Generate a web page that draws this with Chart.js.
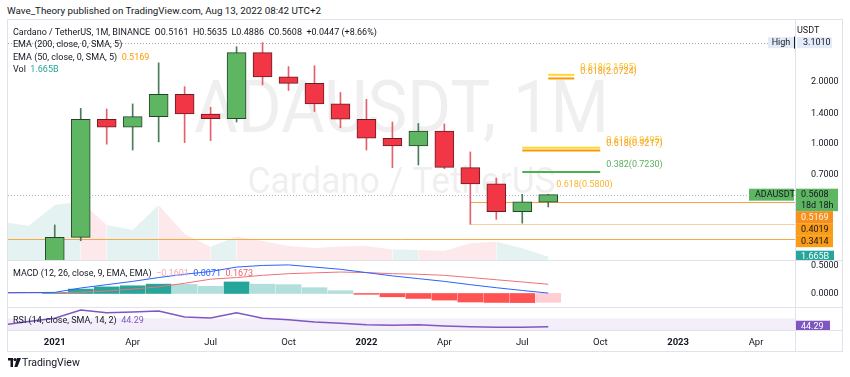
<!DOCTYPE html>
<html>
<head>
<meta charset="utf-8">
<script src="https://cdn.jsdelivr.net/npm/chart.js@4.4.0/dist/chart.umd.min.js"></script>
<style>
  html, body { margin: 0; padding: 0; background: #fff; }
  body { width: 850px; height: 377px; position: relative; overflow: hidden;
         font-family: Roboto, "Liberation Sans", Arial, sans-serif; color: #131722; }
  canvas { position: absolute; }
  .t { position: absolute; white-space: nowrap; font-size: 9px; line-height: 12px; }
  .ln { position: absolute; background: #e0e3eb; }
</style>
</head>
<body>
<canvas id="cMain" style="left:7px; top:20px;" width="835" height="240"></canvas>
<canvas id="cMacd" style="left:7px; top:260px;" width="835" height="48"></canvas>
<canvas id="cRsi" style="left:7px; top:308px;" width="835" height="43"></canvas>

<div class="ln" style="left:7px; top:19px; width:836px; height:1px;"></div>
<div class="ln" style="left:7px; top:351px; width:836px; height:1px;"></div>
<div class="ln" style="left:7px; top:19px; width:1px; height:333px;"></div>
<div class="ln" style="left:842px; top:19px; width:1px; height:333px;"></div>
<div class="ln" style="left:795px; top:19px; width:1px; height:333px;"></div>
<div class="ln" style="left:7px; top:260px; width:836px; height:1px;"></div>
<div class="ln" style="left:7px; top:307px; width:836px; height:1px;"></div>
<div class="ln" style="left:7px; top:330px; width:836px; height:1px;"></div>

<div class="t" style="left:7px; top:5px; font-size:9.8px;">Wave_Theory published on TradingView.com, Aug 13, 2022 08:42 UTC+2</div>
<div class="t" style="left:13px; top:26px;">Cardano / TetherUS, 1M, BINANCE&nbsp;&nbsp;O0.5161&nbsp;&nbsp;H0.5635&nbsp;&nbsp;L0.4886&nbsp;&nbsp;C0.5608&nbsp;&nbsp;+0.0447 (+8.66%)</div>
<div class="t" style="left:13px; top:38px;">EMA (200, close, 0, SMA, 5)</div>
<div class="t" style="left:13px; top:50.5px;">EMA (50, close, 0, SMA, 5)&nbsp;&nbsp;<span style="color:#ff9800">0.5169</span></div>
<div class="t" style="left:13px; top:63px;">Vol&nbsp;&nbsp;<span style="color:#26a69a">1.665B</span></div>
<div class="t" style="left:797px; top:24px;">USDT</div>
<div class="t" style="left:13px; top:266.5px;">MACD (12, 26, close, 9, EMA, EMA)&nbsp;&nbsp;<span style="color:#f7a9b4">−0.1601</span>&nbsp;&nbsp;<span style="color:#2962ff">0.0071</span>&nbsp;&nbsp;<span style="color:#f0606c">0.1673</span></div>
<div class="t" style="left:13px; top:314px;">RSI (14, close, SMA, 14, 2)&nbsp;&nbsp;<span style="color:#7e57c2">44.29</span></div>

<svg style="position:absolute; left:8px; top:358px;" width="13" height="9" viewBox="0 0 13 9">
  <path d="M0 0h5v9h-2.5v-6.5h-2.5z" fill="#131722"/>
  <circle cx="7" cy="1.6" r="1.6" fill="#131722"/>
  <path d="M9 0h4l-3.6 9h-3z" fill="#131722"/>
</svg>
<div class="t" style="left:22px; top:356px; font-size:10.5px; line-height:14px;">TradingView</div>

<script>
// monthly candles, ADA/USDT
const priceMonths = ["2021-01","2021-02","2021-03","2021-04","2021-05","2021-06","2021-07","2021-08","2021-09","2021-10",
                     "2021-11","2021-12","2022-01","2022-02","2022-03","2022-04","2022-05","2022-06","2022-07","2022-08"];
const open  = [0.181, 0.347, 1.31, 1.197, 1.35, 1.735, 1.39, 1.32, 2.77, 2.11, 1.96, 1.556, 1.31, 1.058, 0.97, 1.148, 0.76, 0.633, 0.463, 0.5161];
const high  = [0.399, 1.48, 1.47, 1.556, 2.47, 1.89, 1.50, 2.96, 3.101, 2.37, 2.39, 1.77, 1.64, 1.27, 1.25, 1.243, 0.907, 0.675, 0.563, 0.5635];
const low   = [0.17, 0.334, 0.99, 0.927, 1.015, 1.007, 1.03, 1.27, 1.93, 1.81, 1.43, 1.19, 0.927, 0.76, 0.783, 0.751, 0.4019, 0.425, 0.407, 0.4886];
const close = [0.347, 1.31, 1.197, 1.35, 1.735, 1.39, 1.32, 2.77, 2.11, 1.96, 1.556, 1.31, 1.058, 0.97, 1.148, 0.763, 0.633, 0.463, 0.518, 0.5608];

// indicators (start two months earlier)
const indMonths = ["2020-11","2020-12", ...priceMonths];
const volume = [19.2, 17.3, 27.7, 29.5, 17.7, 15.1, 27.7, 13.1, 6.7, 11.8, 9.6, 7.1, 6.1, 6.8, 7.1, 5.3, 5.0, 4.5, 8.4, 9.2, 5.9, 1.665];
const macdLine   = [0.015, 0.017, 0.02, 0.10, 0.16, 0.22, 0.29, 0.35, 0.40, 0.48, 0.51, 0.52, 0.48, 0.44, 0.38, 0.32, 0.27, 0.22, 0.16, 0.105, 0.055, 0.0071];
const signalLine = [0.010, 0.012, 0.012, 0.025, 0.045, 0.08, 0.12, 0.185, 0.26, 0.29, 0.33, 0.36, 0.375, 0.39, 0.38, 0.36, 0.35, 0.33, 0.29, 0.25, 0.21, 0.1673];
const histogram  = [0.01, 0.08, 0.12, 0.14, 0.17, 0.165, 0.13, 0.21, 0.17, 0.16, 0.105, 0.05, -0.015, -0.06, -0.09, -0.12, -0.155, -0.163, -0.166, -0.1601];
const rsi = [50, 60, 70, 95.4, 87.1, 89.3, 92.3, 74, 71, 87.1, 70, 65.7, 58.7, 54.7, 50.4, 48.6, 50.4, 46.5, 44.3, 42.5, 42.5, 44.29];

// levels
const ema50 = 0.5169;
const rayPrice = [0.5169, 0.4019];
const rayFrom = ["2022-05", "2022-05"];
const supportLevel = 0.3414;

// fibonacci drawings
const fibText  = ["0.618(2.1595)", "0.618(2.0724)", "0.618(0.9495)", "0.618(0.9217)", "0.382(0.7230)"];
const fibPrice = [2.1595, 2.0724, 0.9495, 0.9217, 0.7230];
const fibFrom  = ["2022-08", "2022-08", "2022-07", "2022-07", "2022-07"];
const fibTo    = ["2022-09", "2022-09", "2022-10", "2022-10", "2022-10"];
const fibNoteText = "0.618(0.5800)", fibNotePrice = 0.58, fibNoteMonth = "2022-08";

// axes
const tickMonths = ["2021-01","2021-04","2021-07","2021-10","2022-01","2022-04","2022-07","2022-10","2023-01","2023-04"];
const tickLabels = ["2021","Apr","Jul","Oct","2022","Apr","Jul","Oct","2023","Apr"];
const priceTicks = [0.7, 1.0, 1.4, 2.0];
const macdTicks = [0, 0.5];

const FONT = 'Roboto, "Liberation Sans", Arial, sans-serif';
const TEXT = '#131722';
const UP = '#5fb662', DOWN = '#f23645';
const UP_EDGE = '#25452a', DOWN_EDGE = '#6a1c23';
const UP_WICK = '#4d7a57', DOWN_WICK = '#e4606c';
const X_MIN = -1.8, X_MAX = 28.5;

const mi = s => { const [y, m] = s.split('-').map(Number); return (y - 2021) * 12 + m - 1; };
const isUp = i => close[i] >= open[i];
const noPad = s => { s.paddingTop = 0; s.paddingBottom = 0; s.paddingLeft = 0; s.paddingRight = 0; };

function xAxis(show) {
  return { type: 'linear', min: X_MIN, max: X_MAX, offset: false, display: show, bounds: 'data',
           grid: { display: false }, border: { display: false }, afterFit: noPad };
}
function rightAxis(extra) {
  return Object.assign({
    position: 'right', bounds: 'data',
    grid: { display: false },
    border: { display: false },
    afterFit: s => { s.width = 47; noPad(s); },
    ticks: { color: TEXT, font: { size: 9, family: FONT }, padding: 8 }
  }, extra);
}
const base = {
  responsive: false, animation: false,
  layout: { padding: { left: 1, right: 0, top: 0, bottom: 0 } },
  plugins: { legend: { display: false }, tooltip: { enabled: false } }
};

function box(ctx, x, y, w, h, bg, fg, lines, align) {
  ctx.fillStyle = bg;
  ctx.fillRect(x, y, w, h);
  ctx.fillStyle = fg;
  ctx.font = `9px ${FONT}`;
  ctx.textBaseline = 'middle';
  ctx.textAlign = align || 'left';
  const lh = h / lines.length;
  lines.forEach((t, k) => ctx.fillText(t, align === 'center' ? x + w / 2 : x + 6, y + lh * k + lh / 2 + 0.5));
}
function hline(ctx, x0, x1, y, color, width, dash) {
  ctx.save();
  ctx.strokeStyle = color; ctx.lineWidth = width || 1;
  ctx.setLineDash(dash || []);
  ctx.beginPath(); ctx.moveTo(x0, Math.round(y) + 0.5); ctx.lineTo(x1, Math.round(y) + 0.5); ctx.stroke();
  ctx.restore();
}
function fitText(ctx, text, cx, baseline, size, width, color) {
  ctx.save();
  ctx.font = `${size}px ${FONT}`;
  const w = ctx.measureText(text).width;
  ctx.translate(cx, baseline);
  ctx.scale(width / w, 1);
  ctx.fillStyle = color; ctx.textAlign = 'center'; ctx.textBaseline = 'alphabetic';
  ctx.fillText(text, 0, 0);
  ctx.restore();
}

// main pane
const mainPlugin = {
  id: 'mainExtras',
  beforeDatasetsDraw(chart) {
    const { ctx, chartArea: a } = chart;
    const cx = (a.left + a.right) / 2;
    fitText(ctx, 'ADAUSDT, 1M', cx, 111.5, 72, 415, 'rgba(42,46,57,0.075)');
    fitText(ctx, 'Cardano / TetherUS', cx, 172.5, 37, 308, 'rgba(42,46,57,0.075)');
  },
  afterDatasetDraw(chart, args) {
    if (args.index !== 0) return;
    const { ctx, chartArea: a } = chart;
    const y = chart.scales.y, x = chart.scales.x;
    hline(ctx, a.left, a.right, y.getPixelForValue(Math.max(...high)), '#a3a6af', 1, [1, 2]);
    hline(ctx, a.left, a.right, y.getPixelForValue(close[close.length - 1]), '#b2b5be', 1, [1, 2]);
    hline(ctx, a.left, a.right, y.getPixelForValue(supportLevel), '#f6a74a', 1);
    const rayColors = ['#f59f4f', '#f8cf9f'];
    rayPrice.forEach((p, k) => hline(ctx, x.getPixelForValue(mi(rayFrom[k])), a.right, y.getPixelForValue(p), rayColors[k], 1));
  },
  afterDraw(chart) {
    const { ctx, chartArea: a } = chart;
    const y = chart.scales.y, x = chart.scales.x, v = chart.scales.vol;
    // fib labels
    ctx.save();
    ctx.font = `9px ${FONT}`; ctx.textBaseline = 'middle'; ctx.textAlign = 'left';
    const fibColors = ['#fbc531', '#f5a21f', '#fbc531', '#f5a21f', '#5cae5f'];
    fibText.forEach((t, k) => {
      ctx.fillStyle = fibColors[k];
      ctx.fillText(t, x.getPixelForValue(mi(fibTo[k])) + 6, y.getPixelForValue(fibPrice[k]) - 7);
    });
    ctx.fillStyle = '#f7b430';
    ctx.fillText(fibNoteText, x.getPixelForValue(mi(fibNoteMonth)) + 8, y.getPixelForValue(fibNotePrice) - 7);
    ctx.restore();

    // high marker
    const hy = y.getPixelForValue(Math.max(...high));
    box(ctx, a.right - 27, hy - 5.5, 26, 11, '#e3eaf8', TEXT, ['High'], 'center');
    ctx.fillStyle = TEXT; ctx.fillRect(a.right - 1, hy - 6, 1, 12);
    box(ctx, a.right + 2, hy - 5.5, 35, 11, '#e3eaf8', TEXT, [Math.max(...high).toFixed(4)]);

    // price scale labels
    const last = close.length - 1;
    const labels = [
      { py: y.getPixelForValue(close[last]), lines: [close[last].toFixed(4), '18d 18h'], bg: UP, fg: TEXT, w: 43 },
      { py: y.getPixelForValue(ema50), lines: [ema50.toFixed(4)], bg: '#f68f1e', fg: '#fff6e8', w: 38 },
      { py: y.getPixelForValue(rayPrice[1]), lines: [rayPrice[1].toFixed(4)], bg: '#fb9c16', fg: TEXT, w: 38 },
      { py: y.getPixelForValue(supportLevel), lines: [supportLevel.toFixed(4)], bg: '#fb9c16', fg: TEXT, w: 38 },
      { py: v.getPixelForValue(volume[volume.length - 1]), lines: [volume[volume.length - 1].toFixed(3) + 'B'], bg: '#26a69a', fg: '#ffffff', w: 39 }
    ];
    let bottom = -Infinity;
    labels.forEach((l, k) => {
      const h = l.lines.length === 2 ? 22.5 : 12;
      const top = Math.max(l.py - 6, bottom);
      box(ctx, a.right, top, l.w, h, l.bg, l.fg, l.lines);
      if (k === 0) box(ctx, a.right - 46, top, 45, 12, UP, TEXT, ['ADAUSDT']);
      bottom = top + h;
    });
  }
};

const fibLineColors = ['#fdd835', '#ff9800', '#fdd835', '#ff9800', '#4caf50'];
new Chart(document.getElementById('cMain'), {
  type: 'bar',
  data: {
    datasets: [
      {
        type: 'line', yAxisID: 'vol', order: 10,
        data: indMonths.map((m, i) => ({ x: mi(m), y: volume[i] })),
        borderWidth: 0, pointRadius: 0, fill: 'origin',
        backgroundColor: '#e4f3f1',
        segment: {
          backgroundColor: c => {
            const ci = priceMonths.indexOf(indMonths[c.p1DataIndex]);
            return ci < 0 || isUp(ci) ? '#e4f3f1' : '#fde9eb';
          }
        }
      },
      {
        type: 'bar', yAxisID: 'y', order: 5, grouped: false, barThickness: 1,
        data: priceMonths.map((m, i) => ({ x: mi(m), y: [low[i], high[i]] })),
        backgroundColor: c => isUp(c.dataIndex) ? UP_WICK : DOWN_WICK, borderWidth: 0
      },
      {
        type: 'bar', yAxisID: 'y', order: 4, grouped: false, barThickness: 19,
        data: priceMonths.map((m, i) => ({ x: mi(m), y: [open[i], close[i]] })),
        backgroundColor: c => isUp(c.dataIndex) ? UP : DOWN,
        borderColor: c => isUp(c.dataIndex) ? UP_EDGE : DOWN_EDGE,
        borderWidth: 1, borderSkipped: false
      },
      ...fibPrice.map((p, k) => ({
        type: 'line', yAxisID: 'y', order: 1,
        data: [{ x: mi(fibFrom[k]), y: p }, { x: mi(fibTo[k]), y: p }],
        borderColor: fibLineColors[k], borderWidth: 2, pointRadius: 0
      }))
    ]
  },
  options: Object.assign({}, base, {
    scales: {
      x: xAxis(false),
      y: rightAxis({
        type: 'logarithmic', min: 0.269, max: 4.0,
        afterBuildTicks: s => { s.ticks = priceTicks.map(v => ({ value: v })); },
        ticks: { color: TEXT, font: { size: 9, family: FONT }, padding: 8, callback: v => Number(v).toFixed(4) }
      }),
      vol: { type: 'linear', min: 0, max: 121, display: false, bounds: 'data' }
    }
  }),
  plugins: [mainPlugin]
});

// MACD pane
const histColor = i => {
  const h = histogram[i], prev = i > 0 ? histogram[i - 1] : 0;
  if (h >= 0) return h >= prev ? '#26a69a' : '#b2dfdb';
  return h <= prev ? '#ff5252' : '#ffcdd2';
};
new Chart(document.getElementById('cMacd'), {
  type: 'bar',
  data: {
    datasets: [
      {
        type: 'bar', order: 5, barThickness: 25, grouped: false,
        data: priceMonths.map((m, i) => ({ x: mi(m), y: histogram[i] })),
        backgroundColor: c => histColor(c.dataIndex)
      },
      {
        type: 'line', order: 2,
        data: indMonths.map((m, i) => ({ x: mi(m), y: signalLine[i] })),
        borderColor: '#f0707a', borderWidth: 1, pointRadius: 0
      },
      {
        type: 'line', order: 1,
        data: indMonths.map((m, i) => ({ x: mi(m), y: macdLine[i] })),
        borderColor: '#2962ff', borderWidth: 1, pointRadius: 0
      }
    ]
  },
  options: Object.assign({}, base, {
    scales: {
      x: xAxis(false),
      y: rightAxis({
        type: 'linear', min: -0.264, max: 0.609,
        afterBuildTicks: s => { s.ticks = macdTicks.map(v => ({ value: v })); },
        ticks: { color: TEXT, font: { size: 9, family: FONT }, padding: 8, callback: v => Number(v).toFixed(4) }
      })
    }
  })
});

// RSI pane + time axis
const rsiPlugin = {
  id: 'rsiExtras',
  beforeDatasetsDraw(chart) {
    const { ctx, chartArea: a } = chart, y = chart.scales.y;
    const t = Math.max(a.top, y.getPixelForValue(70)), b = Math.min(a.bottom, y.getPixelForValue(30));
    ctx.fillStyle = '#f3eefa';
    ctx.fillRect(a.left, t, a.right - a.left, b - t);
  },
  afterDraw(chart) {
    const { ctx, chartArea: a } = chart, y = chart.scales.y;
    const v = rsi[rsi.length - 1];
    ctx.save();
    ctx.beginPath(); ctx.rect(a.right, a.top, 47, a.bottom - a.top); ctx.clip();
    box(ctx, a.right, y.getPixelForValue(v) - 6, 35, 12, '#7e57c2', '#ffffff', [v.toFixed(2)]);
    ctx.restore();
  }
};
new Chart(document.getElementById('cRsi'), {
  type: 'line',
  data: {
    datasets: [{
      data: indMonths.map((m, i) => ({ x: mi(m), y: rsi[i] })),
      borderColor: '#7e57c2', borderWidth: 1.5, pointRadius: 0
    }]
  },
  options: Object.assign({}, base, {
    scales: {
      x: Object.assign(xAxis(true), {
        afterFit: s => { s.height = 20; noPad(s); },
        afterBuildTicks: s => { s.ticks = tickMonths.map(m => ({ value: mi(m) })); },
        ticks: {
          color: TEXT, padding: -2, maxRotation: 0, autoSkip: false,
          font: c => ({ size: 9.5, family: FONT, weight: /^\d{4}$/.test(tickLabels[c.index]) ? 'bold' : 'normal' }),
          callback: (v, i) => tickLabels[i]
        }
      }),
      y: rightAxis({ type: 'linear', min: 31.2, max: 101.5, ticks: { display: false } })
    }
  }),
  plugins: [rsiPlugin]
});
</script>
</body>
</html>
